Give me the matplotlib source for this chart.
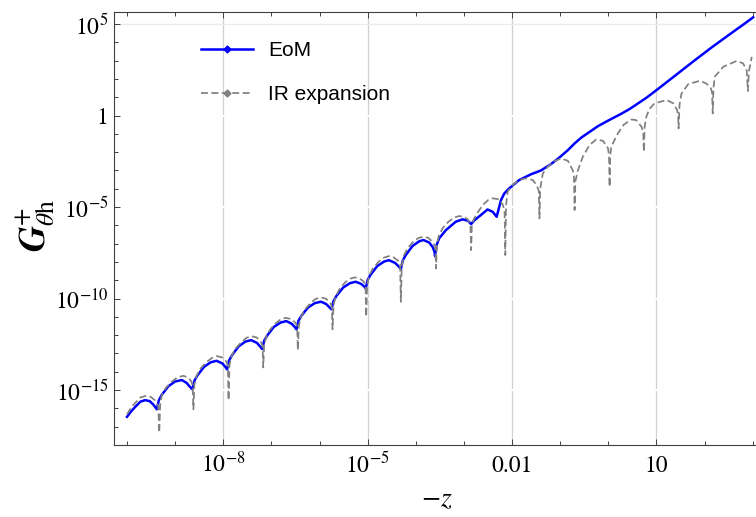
import numpy as np
import matplotlib.pyplot as plt
from matplotlib.lines import Line2D

plt.rcParams['font.family'] = 'STIXGeneral'
plt.rcParams['mathtext.fontset'] = 'stix'

# values, stored as log10(-z) and log10(G)
eom_logz = [-10.0, -9.92, -9.83, -9.72, -9.625, -9.53, -9.45, -9.38,
            -9.34, -9.28, -9.14, -9.00, -8.86, -8.76, -8.70, -8.64,
            -8.60, -8.54, -8.40, -8.26, -8.14, -8.02, -7.96, -7.92,
            -7.88, -7.82, -7.68, -7.54, -7.42, -7.30, -7.24, -7.19,
            -7.15, -7.09, -6.95, -6.81, -6.69, -6.58, -6.52, -6.48,
            -6.44, -6.38, -6.24, -6.10, -5.97, -5.86, -5.80, -5.75,
            -5.71, -5.65, -5.51, -5.37, -5.25, -5.14, -5.08, -5.04,
            -5.00, -4.94, -4.80, -4.66, -4.56, -4.43, -4.36, -4.31,
            -4.27, -4.21, -4.07, -3.93, -3.84, -3.72, -3.65, -3.61, -3.60,
            -3.57, -3.515, -3.375, -3.17, -3.03, -2.92, -2.85,
            -2.79, -2.65, -2.51, -2.40, -2.32,
            -2.23, -2.16, -2.06, -1.85, -1.60, -1.40, -1.19, -1.02, -0.84,
            -0.70, -0.56, -0.35, -0.21, 0.0, 0.27, 0.45, 0.62, 0.80, 1.03,
            1.45, 1.80, 2.15, 2.49, 2.84, 3.01]
eom_logg = [-16.46, -16.18, -15.92, -15.63, -15.55, -15.60, -15.80, -16.05,
            -15.57, -15.27, -14.79, -14.53, -14.45, -14.61, -14.80, -14.96,
            -14.49, -14.21, -13.73, -13.48, -13.40, -13.54, -13.72, -13.87,
            -13.39, -13.10, -12.61, -12.35, -12.27, -12.42, -12.60, -12.76,
            -12.30, -12.03, -11.55, -11.31, -11.23, -11.37, -11.54, -11.68,
            -11.23, -10.95, -10.49, -10.25, -10.17, -10.30, -10.46, -10.59,
            -10.14, -9.86, -9.40, -9.16, -9.08, -9.19, -9.32, -9.44,
            -8.98, -8.70, -8.22, -7.98, -7.90, -8.05, -8.23, -8.39,
            -7.91, -7.63, -7.13, -6.87, -6.80, -6.94, -7.18, -7.45, -7.68,
            -7.10, -6.71, -6.26, -5.80, -5.67, -5.74, -5.93,
            -5.74, -5.44, -5.13, -5.26, -5.53,
            -4.62, -4.25, -3.98, -3.52, -3.20, -3.00, -2.65, -2.30, -1.89,
            -1.52, -1.20, -0.82, -0.57, -0.27, 0.10, 0.37, 0.67, 0.99, 1.45,
            2.31, 3.03, 3.73, 4.38, 5.04, 5.37]

ir_logz = [-10.0, -9.92, -9.83, -9.72, -9.60, -9.50, -9.42, -9.35, -9.33,
           -9.31, -9.28, -9.20, -9.06, -8.95, -8.83, -8.74, -8.67, -8.635, -8.62,
           -8.60, -8.56, -8.48, -8.36, -8.24, -8.13, -8.02, -7.94, -7.905, -7.89,
           -7.87, -7.83, -7.75, -7.63, -7.52, -7.42, -7.31, -7.23, -7.185, -7.17,
           -7.15, -7.11, -7.03, -6.91, -6.80, -6.70, -6.59, -6.51, -6.465, -6.45,
           -6.43, -6.39, -6.31, -6.19, -6.08, -5.98, -5.87, -5.79, -5.745, -5.73,
           -5.71, -5.67, -5.59, -5.47, -5.37, -5.27, -5.17, -5.09, -5.045, -5.03,
           -5.01, -4.97, -4.89, -4.77, -4.66, -4.56, -4.46, -4.37, -4.325, -4.31,
           -4.29, -4.25, -4.17, -4.05, -3.94, -3.84, -3.74, -3.66, -3.595, -3.58,
           -3.56, -3.52, -3.44, -3.32, -3.21, -3.10, -3.00, -2.92, -2.865, -2.85,
           -2.835, -2.80, -2.75, -2.61, -2.50, -2.40, -2.26, -2.19, -2.155, -2.14,
           -2.125, -2.09, -1.99, -1.85, -1.71, -1.57, -1.49, -1.445, -1.43,
           -1.415, -1.36, -1.26, -1.12, -0.98, -0.84, -0.74, -0.715, -0.70,
           -0.685, -0.63, -0.53, -0.39, -0.25, -0.11, -0.005, 0.015, 0.027,
           0.04, 0.06, 0.20, 0.32, 0.48, 0.58, 0.69, 0.725, 0.74,
           0.755, 0.79, 0.85, 0.96, 1.21, 1.35, 1.43, 1.45, 1.46,
           1.48, 1.52, 1.66, 1.90, 2.03, 2.12, 2.155, 2.17,
           2.185, 2.21, 2.39, 2.67, 2.80, 2.875, 2.90, 2.92, 2.98]
ir_logg = [-16.33, -15.98, -15.70, -15.40, -15.31, -15.38, -15.56, -15.85, -17.33,
           -15.80, -15.30, -14.90, -14.52, -14.30, -14.22, -14.30, -14.50, -14.75, -16.05,
           -14.70, -14.25, -13.85, -13.50, -13.25, -13.14, -13.22, -13.42, -13.65, -15.55,
           -13.62, -13.15, -12.75, -12.40, -12.15, -12.05, -12.12, -12.32, -12.55, -13.76,
           -12.55, -12.10, -11.70, -11.35, -11.12, -11.05, -11.12, -11.30, -11.50, -12.81,
           -11.50, -11.02, -10.62, -10.25, -10.02, -9.93, -10.00, -10.18, -10.40, -11.68,
           -10.38, -9.92, -9.50, -9.12, -8.92, -8.84, -8.90, -9.05, -9.25, -10.99,
           -9.25, -8.75, -8.35, -7.98, -7.76, -7.68, -7.75, -7.92, -8.15, -10.17,
           -8.15, -7.65, -7.25, -6.88, -6.68, -6.62, -6.68, -6.88, -7.15, -8.35,
           -7.05, -6.55, -6.15, -5.80, -5.58, -5.49, -5.53, -5.68, -6.00, -7.35,
           -6.00, -5.70, -5.44, -4.89, -4.62, -4.52, -4.58, -4.89, -5.20, -7.62,
           -4.90, -4.15, -3.80, -3.52, -3.43, -3.52, -3.80, -4.10, -5.62,
           -4.00, -3.16, -2.80, -2.49, -2.34, -2.47, -2.98, -3.30, -5.16,
           -3.60, -2.98, -2.25, -1.61, -1.30, -1.38, -1.79, -2.20, -3.89,
           -2.20, -1.70, -0.97, -0.50, -0.21, -0.25, -0.61, -0.90, -1.98,
           -0.60, -0.07, 0.35, 0.67, 0.85, 0.67, 0.30, 0.00, -0.70,
           0.60, 1.20, 1.72, 1.90, 1.76, 1.55, 1.30, 0.12,
           1.50, 2.12, 2.67, 2.99, 2.85, 2.49, 1.34, 2.40, 3.21]

xtick_vals = [1e-8, 1e-5, 1e-2, 1e1]
xtick_text = [r'$10^{-8}$', r'$10^{-5}$', '0.01', '10']
ytick_vals = [1e-15, 1e-10, 1e-5, 1, 1e5]
ytick_text = [r'$10^{-15}$', r'$10^{-10}$', r'$10^{-5}$', '1', r'$10^{5}$']
labels = ['EoM', 'IR expansion']

fig = plt.figure(figsize=(7.56, 5.17), dpi=100)
ax = fig.add_axes([114/756, 1 - 445/517, 1 - 114/756 + 0.002, (445 - 12)/517])
ax.set_xscale('log')
ax.set_yscale('log')

z_eom = 10.0 ** np.array(eom_logz)
g_eom = 10.0 ** np.array(eom_logg)
z_ir = 10.0 ** np.array(ir_logz)
g_ir = 10.0 ** np.array(ir_logg)

# grid: light vertical lines, white horizontal cuts like the original
for xv in xtick_vals:
    ax.axvline(xv, color='0.82', lw=0.9, zorder=0)
for yv in ytick_vals[:-1]:
    ax.axhline(yv, color='white', lw=1.6, zorder=0.5)
ax.axhline(1e5, color='0.92', lw=1.0, zorder=0.5)

ax.plot(z_eom, g_eom, color='blue', lw=1.8, zorder=2)
ax.plot(z_ir, g_ir, color='gray', lw=1.25, dashes=(4, 2), zorder=3)

ax.set_xlim(10 ** -10.27, 10 ** 3.10)
ax.set_ylim(10 ** -18.0, 10 ** 5.66)

ax.set_xticks(xtick_vals)
ax.set_xticklabels(xtick_text)
ax.set_xticks([10.0 ** k for k in range(-10, 4)], minor=True)
ax.set_yticks(ytick_vals)
ax.set_yticklabels(ytick_text)
ax.set_yticks([10.0 ** k for k in range(-17, 6)], minor=True)
ax.xaxis.set_minor_formatter(plt.NullFormatter())
ax.yaxis.set_minor_formatter(plt.NullFormatter())

ax.tick_params(which='both', direction='in', top=True, right=False,
               color='0.25', width=0.7, labelsize=17)
ax.tick_params(which='major', length=4.5)
ax.tick_params(which='minor', length=2.8)
ax.tick_params(axis='x', pad=19.5)
ax.tick_params(axis='y', pad=4)
for lab in ax.get_xticklabels():
    lab.set_verticalalignment('baseline')

for s in ['left', 'bottom', 'top']:
    ax.spines[s].set_color('0.25')
    ax.spines[s].set_linewidth(0.8)
ax.spines['right'].set_visible(False)

handles = [Line2D([], [], color='blue', lw=1.8, marker='D', ms=3.5),
           Line2D([], [], color='gray', lw=1.25, dashes=(4, 2), marker='D', ms=3.5)]
ax.legend(handles, labels, loc='upper left', bbox_to_anchor=(0.106, 0.976),
          frameon=False, handlelength=2.5, handletextpad=0.72, labelspacing=1.2,
          prop={'family': 'Liberation Sans', 'size': 15})

fig.text(437/756, 1 - 500/517, r'$-z$', ha='center', va='center', fontsize=20)
fig.text(36/756, 1 - 225/517, r'$\mathbfit{G}^{+}_{\theta\mathrm{h}}$',
         rotation=90, ha='center', va='center', fontsize=26)

fig.savefig('out.png', dpi=100)
